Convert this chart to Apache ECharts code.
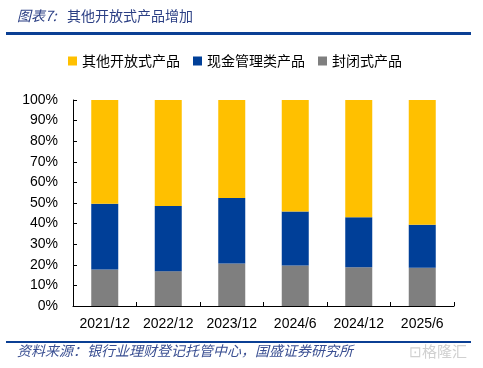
<!DOCTYPE html>
<html><head><meta charset="utf-8">
<script src="https://cdn.jsdelivr.net/npm/echarts@6/dist/echarts.min.js"></script>
<style>html,body{margin:0;padding:0;background:#fff}#c{width:483px;height:368px}</style>
</head><body><div id="c"></div>
<script>
var categories = ['2021/12','2022/12','2023/12','2024/6','2024/12','2025/6'];
var closedProducts = [17.7, 16.9, 20.6, 19.6, 18.8, 18.6];
var cashProducts = [31.9, 31.6, 31.8, 26.3, 24.3, 20.9];
var otherOpenProducts = [50.4, 51.5, 47.6, 54.1, 56.9, 60.5];
var yTicks = [0,10,20,30,40,50,60,70,80,90,100];

var chart = echarts.init(document.getElementById('c'));
var cjk = '"Noto Sans CJK SC", sans-serif';
var latin = '"Liberation Sans", Arial, sans-serif';
chart.setOption({
  animation: false,
  grid: {left: 73, right: 29, top: 100, bottom: 62},
  legend: {
    top: 49, left: 63, itemWidth: 9, itemHeight: 9, itemGap: 13,
    icon: 'rect',
    textStyle: {fontFamily: cjk, fontSize: 14, color: '#000'},
    data: ['其他开放式产品','现金管理类产品','封闭式产品']
  },
  xAxis: {
    type: 'category', data: categories,
    axisLine: {lineStyle: {color: '#000', width: 1}},
    axisTick: {show: true, inside: true, length: 4, lineStyle: {color: '#000'}},
    axisLabel: {interval: 0, fontFamily: latin, fontSize: 14, color: '#000', margin: 11}
  },
  yAxis: {
    type: 'value', min: 0, max: 100, interval: 10,
    splitLine: {show: false},
    axisLine: {show: true, lineStyle: {color: '#000', width: 1}},
    axisTick: {show: true, inside: true, length: 4, lineStyle: {color: '#000'}},
    axisLabel: {fontFamily: latin, fontSize: 14, color: '#000', margin: 15,
      formatter: function(v){ return yTicks.indexOf(v) >= 0 ? v + '%' : ''; }}
  },
  series: [
    {name: '封闭式产品', type: 'bar', stack: 's', barWidth: 27, data: closedProducts, itemStyle: {color: '#7F7F7F'}},
    {name: '现金管理类产品', type: 'bar', stack: 's', barWidth: 27, data: cashProducts, itemStyle: {color: '#003F98'}},
    {name: '其他开放式产品', type: 'bar', stack: 's', barWidth: 27, data: otherOpenProducts, itemStyle: {color: '#FFC000'}}
  ],
  graphic: [
    {type: 'text', left: 17, top: 9, style: {text: '图表7:', fontFamily: cjk, fontSize: 14, fontStyle: 'italic', fill: '#2B3F84'}},
    {type: 'text', left: 67, top: 9, style: {text: '其他开放式产品增加', fontFamily: cjk, fontSize: 14, fill: '#2B3F84'}},
    {type: 'rect', shape: {x: 6, y: 32, width: 465, height: 3}, style: {fill: '#0B3F94'}},
    {type: 'rect', shape: {x: 6, y: 341, width: 465, height: 2}, style: {fill: '#0B3F94'}},
    {type: 'text', left: 17, top: 344, style: {text: '资料来源：银行业理财登记托管中心，国盛证券研究所', fontFamily: cjk, fontSize: 14, fontStyle: 'italic', fill: '#3A4F92'}},
    {type: 'text', left: 409, top: 344, style: {text: '⊡格隆汇', fontFamily: cjk, fontSize: 15, fill: '#D0D0D0'}}
  ]
});
</script></body></html>
